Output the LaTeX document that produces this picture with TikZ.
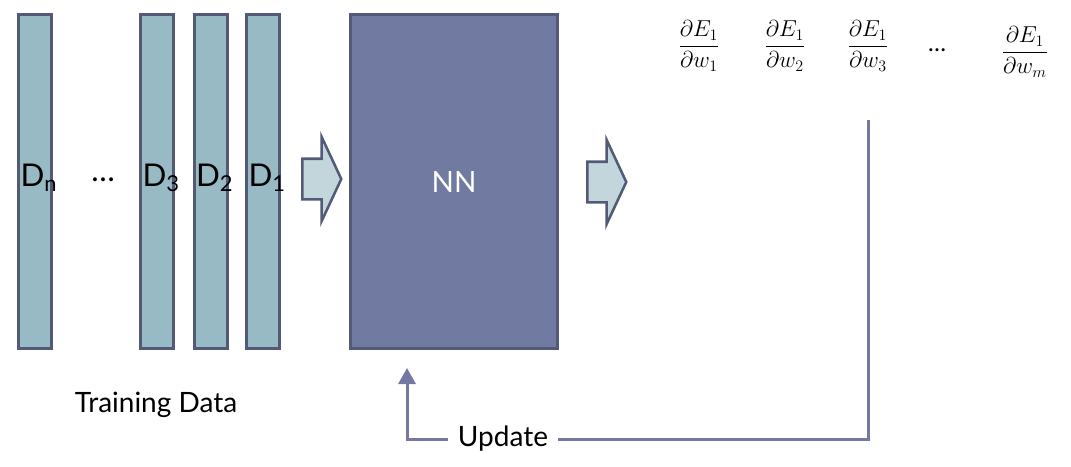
\documentclass[tikz,border=0pt]{standalone}
\usepackage{fontspec}
\setmainfont{Lato}
\usepackage{amsmath}
\usetikzlibrary{arrows.meta, positioning, shapes.arrows}

\definecolor{edge}{HTML}{535A78}
\definecolor{barfill}{HTML}{97BAC4}
\definecolor{netfill}{HTML}{717AA0}
\definecolor{arrowfill}{HTML}{C2D6DC}
\definecolor{loopline}{HTML}{7479A3}

\begin{document}
\begin{tikzpicture}[
	x=0.75pt, y=-0.75pt,
	bar/.style={draw=edge, fill=barfill, line width=2.25pt, inner sep=0pt, minimum width=24.75pt, minimum height=250.5pt},
	net/.style={draw=edge, fill=netfill, line width=2.25pt, minimum width=155.25pt, minimum height=250.5pt, text=white, font=\fontsize{22}{26}\selectfont},
	dlabel/.style={inner sep=0pt, anchor=base west, font=\fontsize{23.5}{28}\selectfont},
	blockarrow/.style={single arrow, draw=edge, fill=arrowfill, line width=1.9pt, inner sep=0pt, text height=28.5pt, text depth=0pt, minimum height=29.25pt, single arrow head extend=16.5pt, single arrow tip angle=130, anchor=tail},
	grad/.style={inner sep=0pt, font=\fontsize{18}{21}\selectfont},
	caption/.style={font=\fontsize{21}{25}\selectfont},
	feedback/.style={draw=loopline, line width=2.25pt}
]
\useasboundingbox (0,0) rectangle (1071,467);

% training data
\node[bar] (dn) at (35,181.5) {};
\node[bar] (d3) at (157,181.5) {};
\node[bar] (d2) at (210.5,181.5) {};
\node[bar] (d1) at (263,181.5) {};
\node[dlabel] (ln) at ([xshift=2.5pt,yshift=-4pt]dn.west) {D\textsubscript{n}};
\node[dlabel] (l3) at ([xshift=2.5pt,yshift=-4pt]d3.west) {D\textsubscript{3}};
\node[dlabel] (l2) at ([xshift=2.5pt,yshift=-4pt]d2.west) {D\textsubscript{2}};
\node[dlabel] (l1) at ([xshift=2.5pt,yshift=-4pt]d1.west) {D\textsubscript{1}};
\node[dlabel, anchor=center] (ddots) at (103,180) {\ldots};
\node[caption] (train) at (156,405) {Training Data};

% network
\node[net] (nn) at (454,181.5) {NN};
\node[blockarrow] (feed) at (301,179) {};
\node[blockarrow] (out) at (586,182) {};

% gradients
\node[grad] (g1) at (699,46) {$\dfrac{\partial E_1}{\partial w_1}$};
\node[grad] (g2) at (785,46) {$\dfrac{\partial E_1}{\partial w_2}$};
\node[grad] (g3) at (868,46) {$\dfrac{\partial E_1}{\partial w_3}$};
\node[grad] (gdots) at (937,50) {\ldots};
\node[grad] (gm) at (1025,52) {$\dfrac{\partial E_1}{\partial w_m}$};

% update loop
\coordinate (gtop) at (868,120);
\coordinate (nnin) at (407,368);
\node[caption, inner xsep=7.5pt] (upd) at (503,439) {Update};
\draw[feedback] (gtop) |- (upd.east);
\draw[feedback, -{Triangle[width=12.75pt, length=12pt]}] (upd.west) -| (nnin);
\end{tikzpicture}
\end{document}
